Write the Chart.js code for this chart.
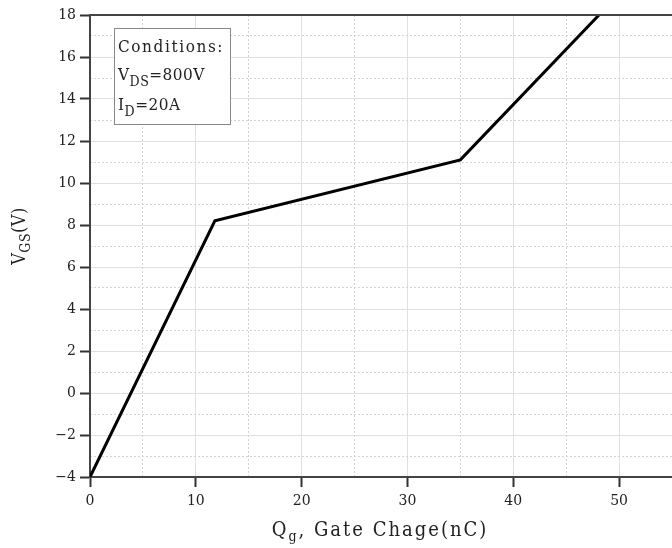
<!DOCTYPE html>
<html lang="en">
<head>
    <meta charset="UTF-8">
    <title>Gate Charge</title>
    <script src="https://cdn.jsdelivr.net/npm/chart.js"></script>
    <style>
        html, body { margin: 0; padding: 0; background: #fff; }
        #wrap { width: 672px; height: 548px; position: relative; }
    </style>
</head>
<body>
    <div id="wrap"><canvas id="gateChart"></canvas></div>
    <script>
        // Gate charge curve (Qg in nC, VGS in V)
        const qg = [0, 11.8, 35, 48.1];
        const vgs = [-4, 8.2, 11.1, 18];
        const conditions = ['Conditions:', ['V', 'DS', '=800V'], ['I', 'D', '=20A']];

        const tickFont = { family: 'DejaVu Serif', size: 14 };
        const labelFamily = 'DejaVu Serif Condensed, DejaVu Serif';

        // draws base + subscript + rest starting at x
        function subText(ctx, x, y, parts, size, subScale, drop) {
            ctx.font = size + 'px ' + labelFamily;
            ctx.fillText(parts[0], x, y);
            x += ctx.measureText(parts[0]).width;
            ctx.font = Math.round(size * subScale) + 'px ' + labelFamily;
            ctx.fillText(parts[1], x, y + drop);
            x += ctx.measureText(parts[1]).width;
            ctx.font = size + 'px ' + labelFamily;
            ctx.fillText(parts[2], x, y);
        }

        function subWidth(ctx, parts, size, subScale) {
            ctx.font = size + 'px ' + labelFamily;
            let w = ctx.measureText(parts[0]).width + ctx.measureText(parts[2]).width;
            ctx.font = Math.round(size * subScale) + 'px ' + labelFamily;
            return w + ctx.measureText(parts[1]).width;
        }

        const decorations = {
            id: 'decorations',
            afterDraw(chart) {
                const ctx = chart.ctx;
                const area = chart.chartArea;
                ctx.save();

                // top frame line
                ctx.strokeStyle = '#444';
                ctx.lineWidth = 2;
                ctx.beginPath();
                ctx.moveTo(area.left, area.top);
                ctx.lineTo(area.right, area.top);
                ctx.stroke();

                // conditions box
                ctx.fillStyle = '#fff';
                ctx.fillRect(114.5, 28.5, 116, 96);
                ctx.strokeStyle = '#888';
                ctx.lineWidth = 1;
                ctx.strokeRect(114.5, 28.5, 116, 96);
                ctx.fillStyle = '#222';
                ctx.textBaseline = 'alphabetic';
                ctx.letterSpacing = '1.6px';
                ctx.font = '17px ' + labelFamily;
                ctx.fillText(conditions[0], 118, 52);
                ctx.letterSpacing = '0.5px';
                subText(ctx, 118, 80, conditions[1], 17, 0.85, 6);
                subText(ctx, 118, 110, conditions[2], 17, 0.85, 6);

                // x title
                ctx.letterSpacing = '2px';
                const xParts = ['Q', 'g', ', Gate Chage(nC)'];
                const xw = subWidth(ctx, xParts, 20, 0.7);
                subText(ctx, 380 - xw / 2, 536, xParts, 20, 0.7, 5);

                // y title (rotated)
                ctx.letterSpacing = '0.5px';
                const yParts = ['V', 'GS', '(V)'];
                ctx.translate(25, 236);
                ctx.rotate(-Math.PI / 2);
                const yw = subWidth(ctx, yParts, 18, 0.75);
                subText(ctx, -yw / 2, 0, yParts, 18, 0.75, 5);
                ctx.restore();
            }
        };

        const minus = v => String(v).replace('-', '\u2212');

        new Chart(document.getElementById('gateChart'), {
            type: 'scatter',
            data: {
                datasets: [{
                    data: qg.map((q, i) => ({ x: q, y: vgs[i] })),
                    showLine: true,
                    borderColor: '#000',
                    borderWidth: 3,
                    pointRadius: 0,
                    tension: 0
                }]
            },
            options: {
                responsive: true,
                maintainAspectRatio: false,
                animation: false,
                layout: { padding: { top: 15, right: 0, left: 0, bottom: 0 } },
                plugins: { legend: { display: false }, tooltip: { enabled: false } },
                scales: {
                    x: {
                        type: 'linear', min: 0, max: 55,
                        afterFit: s => { s.height = 71; },
                        border: { color: '#444', width: 2 },
                        grid: { color: '#e0e0e0', tickColor: '#333', tickLength: 10, tickWidth: 2 },
                        ticks: { stepSize: 10, includeBounds: false, color: '#222', font: tickFont, padding: 6, callback: minus }
                    },
                    xMinor: {
                        type: 'linear', position: 'top', min: 0, max: 55,
                        afterFit: s => { s.height = 0; },
                        border: { display: false, dash: [2, 2] },
                        grid: {
                            drawTicks: false,
                            color: c => (c.tick && c.tick.value % 10 !== 0) ? '#d4d4d4' : 'transparent'
                        },
                        ticks: { stepSize: 5, display: false }
                    },
                    y: {
                        type: 'linear', min: -4, max: 18,
                        afterFit: s => { s.width = 90; },
                        border: { color: '#444', width: 2 },
                        grid: { color: '#e0e0e0', tickColor: '#333', tickLength: 10, tickWidth: 2 },
                        ticks: { stepSize: 2, color: '#222', font: tickFont, padding: 4, callback: minus }
                    },
                    yMinor: {
                        type: 'linear', position: 'right', min: -4, max: 18,
                        afterFit: s => { s.width = 0; },
                        border: { display: false, dash: [2, 2] },
                        grid: {
                            drawTicks: false,
                            color: c => (c.tick && c.tick.value % 2 !== 0) ? '#d4d4d4' : 'transparent'
                        },
                        ticks: { stepSize: 1, display: false }
                    }
                }
            },
            plugins: [decorations]
        });
    </script>
</body>
</html>
